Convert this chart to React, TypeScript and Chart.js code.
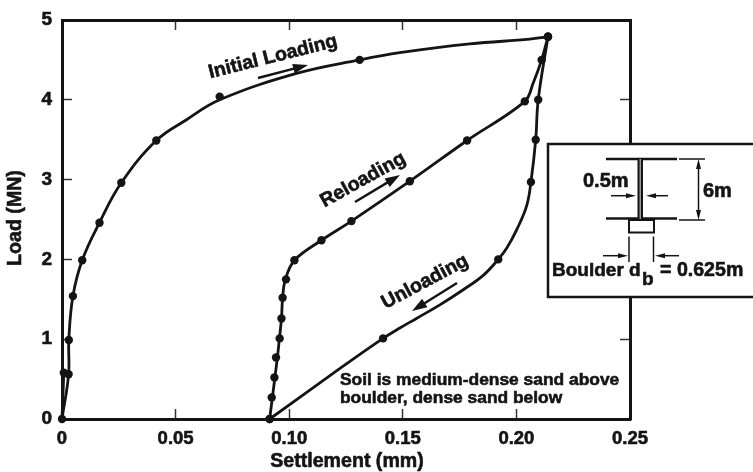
import React, { useEffect, useRef } from "react";
import { Chart, registerables } from "chart.js";

Chart.register(...registerables);

const xTicks = [0, 0.05, 0.1, 0.15, 0.2, 0.25];
const yTicks = [0, 1, 2, 3, 4, 5];

// Measured points (markers)
const initialX = [0, 0.0029, 0.003, 0.0048, 0.0089, 0.0165, 0.0261, 0.0415, 0.0694, 0.131, 0.2139];
const initialY = [0, 0.56, 0.99, 1.54, 1.99, 2.46, 2.96, 3.49, 4.04, 4.5, 4.79];
const firstCycleX = [0.0008];
const firstCycleY = [0.58];
const reloadX = [0.0914, 0.0923, 0.0935, 0.0942, 0.0958, 0.0966, 0.0971, 0.0986, 0.1023, 0.1142, 0.1274, 0.1531, 0.1783, 0.2037, 0.2111, 0.2139];
const reloadY = [0, 0.27, 0.52, 0.77, 1.01, 1.26, 1.52, 1.75, 1.99, 2.24, 2.48, 2.98, 3.49, 3.98, 4.5, 4.79];
const unloadX = [0.2139, 0.2096, 0.2085, 0.2064, 0.192, 0.1413, 0.0914];
const unloadY = [4.79, 4.0, 3.5, 2.97, 2.0, 1.01, 0];

// Curves traced through the points
const initialCurveX = [0, 0.0029, 0.003, 0.0048, 0.0089, 0.0165, 0.0261, 0.0415, 0.0548, 0.0694, 0.1032, 0.131, 0.1487, 0.1795, 0.2059, 0.2139];
const initialCurveY = [0, 0.56, 0.99, 1.54, 1.99, 2.46, 2.96, 3.49, 3.75, 4.0, 4.33, 4.5, 4.59, 4.7, 4.76, 4.79];
const reloadCurveX = [0.0914, 0.0948, 0.0957, 0.0966, 0.0971, 0.0983, 0.1023, 0.1142, 0.1274, 0.1531, 0.1783, 0.2037, 0.2074, 0.2111, 0.2139];
const reloadCurveY = [0, 0.77, 1.01, 1.26, 1.52, 1.75, 1.99, 2.24, 2.48, 2.98, 3.49, 3.98, 4.21, 4.5, 4.79];
const unloadCurveX = [0.2139, 0.2096, 0.2085, 0.2064, 0.2045, 0.2001, 0.1957, 0.192, 0.1854, 0.1766, 0.1663, 0.156, 0.1487, 0.1413, 0.1222, 0.0914];
const unloadCurveY = [4.79, 4.0, 3.5, 2.97, 2.67, 2.37, 2.14, 2.0, 1.8, 1.62, 1.43, 1.26, 1.14, 1.01, 0.63, 0];

const INK = "#141414";
const FONT = '"Liberation Sans", Arial, sans-serif';
const zip = (xs: number[], ys: number[]) => xs.map((x, i) => ({ x, y: ys[i] }));

function arrow(ctx: CanvasRenderingContext2D, x1: number, y1: number, x2: number, y2: number, lw: number, hl: number, hw: number) {
  const a = Math.atan2(y2 - y1, x2 - x1);
  ctx.lineWidth = lw;
  ctx.beginPath();
  ctx.moveTo(x1, y1);
  ctx.lineTo(x2 - Math.cos(a) * hl * 0.7, y2 - Math.sin(a) * hl * 0.7);
  ctx.stroke();
  ctx.beginPath();
  ctx.moveTo(x2, y2);
  ctx.lineTo(x2 - Math.cos(a) * hl - Math.sin(a) * hw, y2 - Math.sin(a) * hl + Math.cos(a) * hw);
  ctx.lineTo(x2 - Math.cos(a) * hl + Math.sin(a) * hw, y2 - Math.sin(a) * hl - Math.cos(a) * hw);
  ctx.closePath();
  ctx.fill();
}

function text(ctx: CanvasRenderingContext2D, s: string, x: number, y: number, size: number, align: CanvasTextAlign = "left", angle = 0) {
  ctx.save();
  ctx.font = `bold ${size}px ${FONT}`;
  ctx.textAlign = align;
  ctx.textBaseline = angle ? "middle" : "alphabetic";
  ctx.translate(x, y);
  if (angle) ctx.rotate((angle * Math.PI) / 180);
  ctx.lineWidth = 0.6;
  ctx.lineJoin = "round";
  ctx.strokeText(s, 0, 0);
  ctx.fillText(s, 0, 0);
  ctx.restore();
}

function seg(ctx: CanvasRenderingContext2D, x1: number, y1: number, x2: number, y2: number, lw: number) {
  ctx.lineWidth = lw;
  ctx.beginPath();
  ctx.moveTo(x1, y1);
  ctx.lineTo(x2, y2);
  ctx.stroke();
}

const notes = {
  id: "notes",
  afterDraw(chart: any) {
    const ctx: CanvasRenderingContext2D = chart.ctx;
    ctx.save();
    ctx.fillStyle = INK;
    ctx.strokeStyle = INK;
    text(ctx, "Settlement (mm)", 347, 462, 19.6, "center", 0.0001);
    text(ctx, "Load (MN)", 16, 218, 19.6, "center", -90);
    text(ctx, "Initial Loading", 273, 57, 19.5, "center", -14);
    text(ctx, "Reloading", 363, 180, 19.5, "center", -29);
    text(ctx, "Unloading", 425, 282, 19.5, "center", -28);
    arrow(ctx, 258, 78, 308, 65, 2.5, 15, 5);
    arrow(ctx, 355, 202, 400, 175, 2.5, 15, 5);
    arrow(ctx, 457, 283, 412, 311, 2.5, 15, 5);
    text(ctx, "Soil is medium-dense sand above", 340, 385, 17.4);
    text(ctx, "boulder, dense sand below", 340, 403, 17.4);

    // inset
    ctx.fillStyle = "#ffffff";
    ctx.fillRect(548, 144, 210, 153);
    ctx.lineWidth = 2.5;
    ctx.strokeRect(548, 144, 210, 153);
    ctx.fillStyle = INK;
    seg(ctx, 606, 159, 677, 159, 2.5);
    seg(ctx, 606, 218.5, 677, 218.5, 2.5);
    ctx.fillStyle = "#999999";
    ctx.fillRect(638.5, 159, 3.5, 60);
    ctx.fillStyle = INK;
    seg(ctx, 638.5, 159, 638.5, 219, 2);
    seg(ctx, 642, 159, 642, 219, 2);
    ctx.lineWidth = 2;
    ctx.strokeRect(629, 220, 25, 12.5);
    seg(ctx, 679, 159, 705, 159, 1.5);
    seg(ctx, 679, 220, 705, 220, 1.5);
    arrow(ctx, 698.5, 190, 698.5, 159, 1.5, 10, 2.5);
    arrow(ctx, 698.5, 190, 698.5, 220, 1.5, 10, 2.5);
    arrow(ctx, 611, 195.7, 636, 195.7, 1.5, 10, 2.5);
    arrow(ctx, 668, 195.7, 646, 195.7, 1.5, 10, 2.5);
    arrow(ctx, 603, 255.7, 628, 255.7, 1.5, 10, 2.5);
    arrow(ctx, 679, 255.7, 655, 255.7, 1.5, 10, 2.5);
    seg(ctx, 629, 236.5, 629, 262, 1.5);
    seg(ctx, 653.5, 236.5, 653.5, 262, 1.5);
    text(ctx, "0.5m", 583, 187, 20);
    text(ctx, "6m", 703, 197, 20);
    text(ctx, "Boulder d", 552, 276, 19);
    text(ctx, "b", 642, 285, 19);
    text(ctx, "= 0.625m", 660, 276, 19.6);
    ctx.restore();
  },
};

export default function App() {
  const ref = useRef<HTMLCanvasElement>(null);
  useEffect(() => {
    document.body.style.margin = "0";
    document.body.style.background = "#ffffff";
    const line = (data: any[], tension: number) => ({
      data,
      borderColor: INK,
      borderWidth: 2.8,
      pointRadius: 0,
      tension,
      fill: false,
    });
    const dots = (data: any[]) => ({
      data,
      showLine: false,
      pointRadius: 4.2,
      pointBackgroundColor: INK,
      pointBorderColor: INK,
      pointBorderWidth: 0,
    });
    const grid = { drawOnChartArea: false, tickLength: -10, tickWidth: 1.5, tickColor: "#333333" };
    const border = { color: INK, width: 3 };
    const nopad = (s: any) => { s.paddingTop = 0; s.paddingBottom = 0; s.paddingLeft = 0; s.paddingRight = 0; };
    const chart = new Chart(ref.current as HTMLCanvasElement, {
      type: "line",
      data: {
        datasets: [
          line(zip(initialCurveX, initialCurveY), 0.4),
          line(zip([0, firstCycleX[0]], [0, firstCycleY[0]]), 0),
          line(zip(reloadCurveX, reloadCurveY), 0.35),
          line(zip(unloadCurveX, unloadCurveY), 0.4),
          dots(zip(initialX, initialY)),
          dots(zip(firstCycleX, firstCycleY)),
          dots(zip(reloadX, reloadY)),
          dots(zip(unloadX, unloadY)),
        ] as any,
      },
      options: {
        responsive: false,
        animation: false,
        clip: false as any,
        layout: { padding: 0 },
        plugins: { legend: { display: false }, tooltip: { enabled: false }, title: { display: false } },
        scales: {
          x: {
            type: "linear",
            position: "bottom",
            min: xTicks[0],
            max: xTicks[xTicks.length - 1],
            afterBuildTicks: (s: any) => { s.ticks = xTicks.map((value) => ({ value })); },
            afterFit: (s: any) => { s.height = 53; nopad(s); },
            grid,
            border,
            ticks: {
              color: INK,
              maxRotation: 0,
              autoSkip: false,
              padding: 19,
              textStrokeColor: INK,
              textStrokeWidth: 0.6,
              font: { family: FONT, weight: "bold", size: 18.5 },
              callback: (v: any) => (Number(v) === 0 ? "0" : Number(v).toFixed(2)),
            },
          },
          y: {
            type: "linear",
            position: "left",
            min: yTicks[0],
            max: yTicks[yTicks.length - 1],
            afterBuildTicks: (s: any) => { s.ticks = yTicks.map((value) => ({ value })); },
            afterFit: (s: any) => { s.width = 62; nopad(s); },
            grid,
            border,
            ticks: { color: INK, padding: 20, textStrokeColor: INK, textStrokeWidth: 0.6, font: { family: FONT, weight: "bold", size: 19 }, callback: (v: any) => String(v) },
          },
          top: {
            type: "linear",
            position: "top",
            min: xTicks[0],
            max: xTicks[xTicks.length - 1],
            afterBuildTicks: (s: any) => { s.ticks = xTicks.map((value) => ({ value })); },
            afterFit: (s: any) => { s.height = 20; nopad(s); },
            grid,
            border,
            ticks: { display: false },
          },
          right: {
            type: "linear",
            position: "right",
            min: yTicks[0],
            max: yTicks[yTicks.length - 1],
            afterBuildTicks: (s: any) => { s.ticks = yTicks.map((value) => ({ value })); },
            afterFit: (s: any) => { s.width = 123; nopad(s); },
            grid,
            border,
            ticks: { display: false },
          },
        },
      } as any,
      plugins: [notes],
    });
    return () => chart.destroy();
  }, []);
  return (
    <canvas
      ref={ref}
      width={753}
      height={472}
      style={{ display: "block", width: 753, height: 472, filter: "blur(0.45px)" }}
    />
  );
}
